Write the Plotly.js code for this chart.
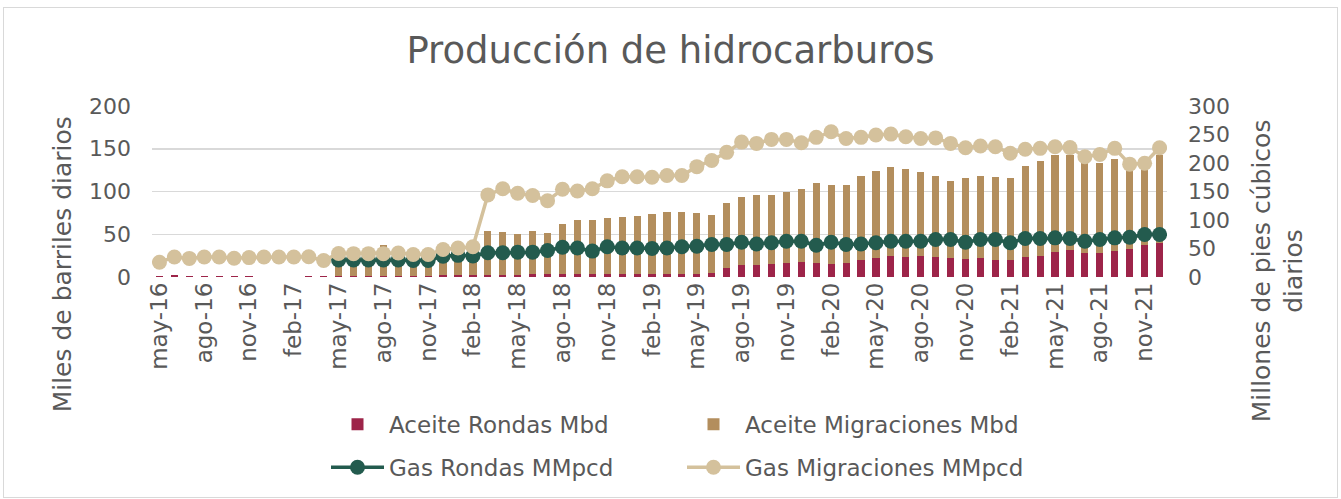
<!DOCTYPE html>
<html>
<head>
<meta charset="utf-8">
<script src="https://cdn.plot.ly/plotly-3.0.1.min.js"></script>
<style>
html,body{margin:0;padding:0;background:#fff;}
#wrap{position:relative;width:1341px;height:499px;}
#chart{width:1341px;height:499px;}
#frame{position:absolute;left:3px;top:7px;width:1333px;height:489px;border:1px solid #d9d9d9;pointer-events:none;}
</style>
</head>
<body>
<div id="wrap"><div id="chart"></div><div id="frame"></div></div>
<script>
// Months may-16 .. dic-21
const months = [
 "may-16","jun-16","jul-16","ago-16","sep-16","oct-16","nov-16","dic-16",
 "ene-17","feb-17","mar-17","abr-17","may-17","jun-17","jul-17","ago-17","sep-17","oct-17","nov-17","dic-17",
 "ene-18","feb-18","mar-18","abr-18","may-18","jun-18","jul-18","ago-18","sep-18","oct-18","nov-18","dic-18",
 "ene-19","feb-19","mar-19","abr-19","may-19","jun-19","jul-19","ago-19","sep-19","oct-19","nov-19","dic-19",
 "ene-20","feb-20","mar-20","abr-20","may-20","jun-20","jul-20","ago-20","sep-20","oct-20","nov-20","dic-20",
 "ene-21","feb-21","mar-21","abr-21","may-21","jun-21","jul-21","ago-21","sep-21","oct-21","nov-21","dic-21"
];

// Aceite Rondas (Mbd)
const aceiteRondas = [
 1.5,2,1.5,1.5,1.5,1.5,1.5,0.5,0.5,0.5,1.5,1.5,
 1.5,1.5,1.5,1.5,1.5,1.5,1.5,2,2,2,
 2,2,2,3,3,4,4,3.5,4,3.5,4,4,4,4,4,4.3,
 10.9,14,14,14.8,16.7,17,16,15,16.3,20.2,22,24,23.3,24,23.3,
 22,21,22,19.8,19.8,23,24.4,29.5,31.4,28,28,30.2,32.6,37.2,39.5
];

// Total aceite (top of stacked bar, Mbd)
const aceiteTotal = [
 1.5,2,1.5,1.5,1.5,1.5,1.5,0.5,0.5,0.5,1.5,1.5,
 31,32,32,37,32,30,29,31,31,31,
 53.5,52.3,50.8,54.3,51.6,62,66.3,67,69,70.6,71.7,74,76.4,76.4,74.4,73,
 86.5,93.5,95.8,95.8,99.7,103.5,110.5,107.4,108,117.9,123.7,128.4,126,122.9,118.3,
 112.8,116.3,118.3,116.7,116,129.5,135.7,142.7,142.7,133,133.7,137.7,128,126,142.7
];

// Aceite Migraciones (Mbd) = stacked segment above Rondas
const aceiteMigraciones = aceiteTotal.map((t, i) => Math.max(0, +(t - aceiteRondas[i]).toFixed(1)));

// Gas Rondas (MMpcd)
const gasRondas = [
 null,null,null,null,null,null,null,null,null,null,null,null,
 30,30,30,30,30,29,29,36.6,38,37,
 42.5,42.5,43.6,43.6,46.6,52.3,51,45.4,53,51,51,50,51,53,54,57,
 57,61,58,60,62.8,62.8,55.8,61,57,58,60,62.8,62.8,62.8,65.7,
 65.7,61,65.7,65.7,60,67.5,67.5,68.7,67.5,62.8,65.7,68.7,69.8,74.5,74.5
];

// Gas Migraciones (MMpcd)
const gasMigraciones = [
 26,35,32.6,35,35,33,34,35,35,35,35.5,29,
 41.3,41,41,41,42,39.6,39.6,48.3,51,53,
 144,154.7,147,143,133.8,154,151,154.7,168.7,176,176,175,178,178,193.6,204.5,
 218.7,236.7,234.4,241.4,241.4,235.5,245,254.7,243,245,249,250.7,246,243,244,
 234.4,226.8,229.7,228.6,217,224,225.7,228.5,227,211,215,225.7,198,199.5,226.8
];

const tickMonths = months.filter((m, i) => i % 3 === 0);

const txt = '#595959';
const FONT = 'DejaVu Sans, sans-serif';

const traces = [
 {type:'bar', name:'Aceite Rondas Mbd', x:months, y:aceiteRondas, marker:{color:'#9D2449'}, legend:'legend', yaxis:'y'},
 {type:'bar', name:'Aceite Migraciones Mbd', x:months, y:aceiteMigraciones, marker:{color:'#B38E5D'}, legend:'legend', yaxis:'y'},
 {type:'scatter', mode:'lines+markers', name:'Gas Rondas MMpcd', x:months, y:gasRondas, yaxis:'y2',
  line:{color:'#235B4E', width:3.5}, marker:{color:'#235B4E', size:15}, legend:'legend2', connectgaps:false},
 {type:'scatter', mode:'lines+markers', name:'Gas Migraciones MMpcd', x:months, y:gasMigraciones, yaxis:'y2',
  line:{color:'#D4C19C', width:3.5}, marker:{color:'#D4C19C', size:15}, legend:'legend2'}
];

const layout = {
 width:1341, height:499,
 margin:{l:152, r:174, t:106, b:221},
 paper_bgcolor:'rgba(0,0,0,0)', plot_bgcolor:'rgba(0,0,0,0)',
 font:{family:FONT, color:txt, size:21},
 title:{text:'Producción de hidrocarburos', font:{family:FONT, size:37, color:txt}, x:0.5, xanchor:'center', y:0.9, yanchor:'middle'},
 barmode:'stack', bargap:0.52,
 xaxis:{type:'category', range:[-0.5, months.length-0.5], autorange:false, tickmode:'array', tickvals:tickMonths, ticktext:tickMonths, tickangle:-90,
  tickfont:{size:23, color:txt}, showgrid:false, showline:false, zeroline:false, ticks:'', ticklen:0},
 yaxis:{range:[0,200], dtick:50, tickfont:{size:22, color:txt}, gridcolor:'#d9d9d9', gridwidth:1.5,
  zeroline:false, showline:false, ticks:'', ticklabelstandoff:20},
 yaxis2:{range:[0,300], dtick:50, overlaying:'y', side:'right', showgrid:false, zeroline:false,
  tickfont:{size:22, color:txt}, ticks:'', ticklabelstandoff:20},
 showlegend:true,
 legend:{orientation:'h', x:(326-152)/1015, xanchor:'left', y:(277.7-424)/172, yanchor:'middle', entrywidth:288, entrywidthmode:'pixels',
  itemwidth:53, font:{size:23, color:txt}, traceorder:'normal', bgcolor:'rgba(0,0,0,0)'},
 legend2:{orientation:'h', x:(326-152)/1015, xanchor:'left', y:(277.7-467)/172, yanchor:'middle', entrywidth:288, entrywidthmode:'pixels',
  itemwidth:53, font:{size:23, color:txt}, traceorder:'normal', bgcolor:'rgba(0,0,0,0)'},
 annotations:[
  {text:'Miles de barriles diarios', textangle:-90, xref:'paper', yref:'paper',
   x:(62-152)/1015, y:(277.7-265)/172, xanchor:'center', yanchor:'middle', showarrow:false, font:{size:25, color:txt}},
  {text:'Millones de pies cúbicos<br>diarios', textangle:-90, xref:'paper', yref:'paper',
   x:(1278-152)/1015, y:(277.7-272)/172, xanchor:'center', yanchor:'middle', showarrow:false, font:{size:25, color:txt}}
 ]
};

Plotly.newPlot('chart', traces, layout, {displayModeBar:false, staticPlot:true});
</script>
</body>
</html>
